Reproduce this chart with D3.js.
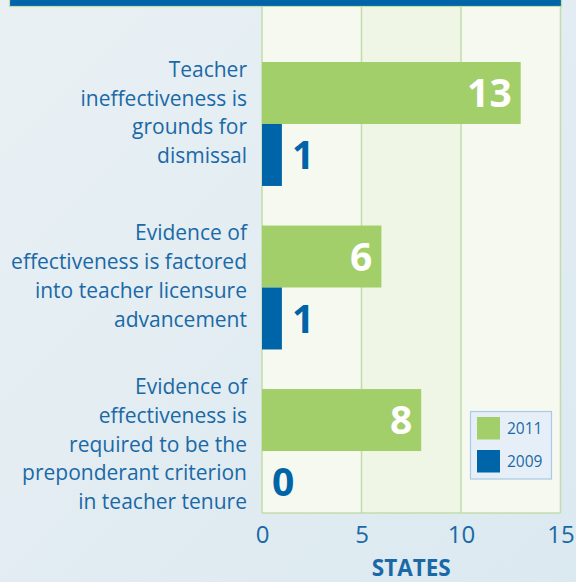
<!DOCTYPE html>
<html>
<head>
<meta charset="utf-8">
<script src="https://cdn.jsdelivr.net/npm/d3@7"></script>
<style>
  html, body { margin: 0; padding: 0; }
  body { width: 576px; height: 582px; overflow: hidden; font-family: "Open Sans", sans-serif; }
</style>
</head>
<body>
<div id="chart"></div>
<script>
const categories = [
  ["Teacher", "ineffectiveness is", "grounds for", "dismissal"],
  ["Evidence of", "effectiveness is factored", "into teacher licensure", "advancement"],
  ["Evidence of", "effectiveness is", "required to be the", "preponderant criterion", "in teacher tenure"]
];
const series = ["2011", "2009"];
const values2011 = [13, 6, 8];
const values2009 = [1, 1, 0];
const xTicks = [0, 5, 10, 15];

const width = 576, height = 582;
const plot = { left: 262, right: 560.5, top: 7, bottom: 513 };
const colors = { "2011": "#a3cf6a", "2009": "#0065a8" };
const textBlue = "#1a69a6";

const svg = d3.select("#chart").append("svg")
  .attr("width", width)
  .attr("height", height);

// background
const defs = svg.append("defs");
const grad = defs.append("linearGradient").attr("id", "bg").attr("x1", 0).attr("x2", 1).attr("y1", 0).attr("y2", 1);
grad.append("stop").attr("offset", "0%").attr("stop-color", "#e9f0f4");
grad.append("stop").attr("offset", "100%").attr("stop-color", "#dbe9f0");
svg.append("rect").attr("width", width).attr("height", height).attr("fill", "url(#bg)");

// title band remnant
svg.append("rect")
  .attr("x", 9.5).attr("y", -10)
  .attr("width", 552).attr("height", 16.5)
  .attr("fill", "#0064a8")
  .attr("stroke", "#c2dcab").attr("stroke-width", 1.2);

const keys = categories.map((d, i) => i);

const x = d3.scaleLinear().domain([0, 15]).range([plot.left, plot.right]);

const y0 = d3.scaleBand()
  .domain(keys)
  .range([plot.top + 55, plot.bottom])
  .paddingInner(0.242)
  .paddingOuter(0);

const y1 = d3.scaleBand()
  .domain(series)
  .range([0, y0.bandwidth()]);

// plot background columns
const cols = d3.pairs(xTicks);
svg.append("g").selectAll("rect")
  .data(cols)
  .join("rect")
  .attr("x", d => x(d[0]))
  .attr("width", d => x(d[1]) - x(d[0]))
  .attr("y", plot.top)
  .attr("height", plot.bottom - plot.top)
  .attr("fill", (d, i) => i === 1 ? "#eff6e5" : "#f6f9ef");

// grid lines and border
svg.append("g").selectAll("line")
  .data(xTicks)
  .join("line")
  .attr("x1", d => x(d)).attr("x2", d => x(d))
  .attr("y1", plot.top).attr("y2", plot.bottom)
  .attr("stroke", "#c2dcab").attr("stroke-width", 1.5);

svg.append("line")
  .attr("x1", plot.left).attr("x2", plot.right)
  .attr("y1", plot.bottom).attr("y2", plot.bottom)
  .attr("stroke", "#c2dcab").attr("stroke-width", 1.5);

// bars
const rows = keys.map(i => ({ key: i, "2011": values2011[i], "2009": values2009[i] }));

const groups = svg.append("g").selectAll("g")
  .data(rows)
  .join("g")
  .attr("transform", d => `translate(0,${y0(d.key)})`);

groups.selectAll("rect")
  .data(d => series.map(s => ({ s, v: d[s] })))
  .join("rect")
  .attr("x", x(0))
  .attr("y", d => y1(d.s))
  .attr("height", y1.bandwidth())
  .attr("width", d => x(d.v) - x(0))
  .attr("fill", d => colors[d.s]);

groups.selectAll("text.val")
  .data(d => series.map(s => ({ s, v: d[s] })))
  .join("text")
  .attr("class", "val")
  .attr("x", d => d.s === "2011" ? x(d.v) - 9 : x(d.v) + 10)
  .attr("y", d => y1(d.s) + y1.bandwidth() / 2)
  .attr("dy", "0.36em")
  .attr("text-anchor", d => d.s === "2011" ? "end" : "start")
  .attr("font-size", 39)
  .attr("font-weight", 700)
  .attr("fill", d => d.s === "2011" ? "#ffffff" : colors["2009"])
  .text(d => d.v);

// category labels
const lineH = 28.7;
const labels = svg.append("g").selectAll("text")
  .data(keys)
  .join("text")
  .attr("text-anchor", "end")
  .attr("font-size", 21)
  .attr("fill", textBlue);

labels.each(function(i) {
  const lines = categories[i];
  // longer labels sit a little lower, as in the original
  const mid = y0(i) + y0.bandwidth() / 2 - 4 + (lines.length - 4) * 4.5;
  const first = mid - (lines.length - 1) * lineH / 2;
  d3.select(this).selectAll("tspan")
    .data(lines)
    .join("tspan")
    .attr("x", 247)
    .attr("y", (d, j) => first + j * lineH)
    .text(d => d);
});

// x axis
const axis = svg.append("g")
  .attr("transform", `translate(0,${plot.bottom})`)
  .call(d3.axisBottom(x).tickValues(xTicks).tickSize(0).tickPadding(0));
axis.select(".domain").remove();
axis.selectAll("text")
  .attr("y", 30)
  .attr("dy", 0)
  .attr("font-family", "Open Sans, sans-serif")
  .attr("font-size", 24)
  .attr("fill", textBlue);

svg.append("text")
  .attr("x", (plot.left + plot.right) / 2)
  .attr("y", 576)
  .attr("text-anchor", "middle")
  .attr("font-size", 22.5)
  .attr("font-weight", 700)
  .attr("fill", textBlue)
  .text("STATES");

// legend
const legend = svg.append("g").attr("transform", "translate(470.5,411.5)");
legend.append("rect")
  .attr("width", 81).attr("height", 67.5)
  .attr("fill", "#e6eff8")
  .attr("stroke", "#a9c9e6").attr("stroke-width", 1.2);

const item = legend.selectAll("g")
  .data(series)
  .join("g")
  .attr("transform", (d, i) => `translate(6.5,${5.5 + i * 33})`);
item.append("rect")
  .attr("width", 23).attr("height", 22.5)
  .attr("fill", d => colors[d]);
item.append("text")
  .attr("x", 30).attr("y", 11.5)
  .attr("dy", "0.36em")
  .attr("font-size", 15.5)
  .attr("fill", textBlue)
  .text(d => d);
</script>
</body>
</html>
